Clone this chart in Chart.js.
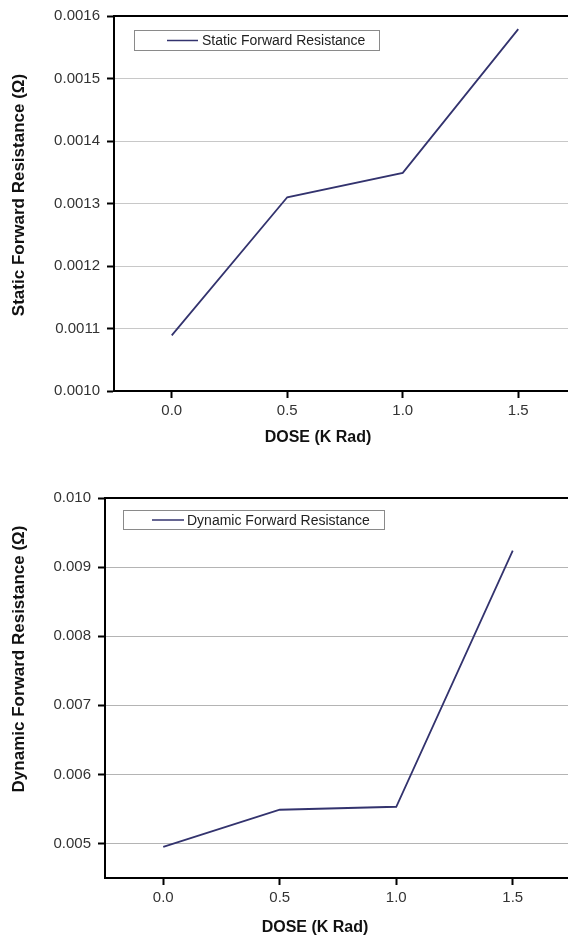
<!DOCTYPE html>
<html><head><meta charset="utf-8">
<script src="https://cdn.jsdelivr.net/npm/chart.js@4/dist/chart.umd.min.js"></script>
<style>
html,body{margin:0;padding:0;background:#fff;overflow:hidden;width:568px;height:938px;}
.wrap{position:absolute;left:0;width:600px;}
</style></head><body>
<div class="wrap" style="top:0;height:470px"><canvas id="c1"></canvas></div>
<div class="wrap" style="top:470px;height:468px"><canvas id="c2"></canvas></div>
<script>
// ---- data ----
const doseLevels = [0.0, 0.5, 1.0, 1.5];
const staticResistance = [0.001089, 0.00131, 0.001349, 0.001579];
const dynamicResistance = [0.00495, 0.005488, 0.005531, 0.00924];
const doseTicks = [0.0, 0.5, 1.0, 1.5];
const staticTicks = [0.0010, 0.0011, 0.0012, 0.0013, 0.0014, 0.0015, 0.0016];
const dynamicTicks = [0.005, 0.006, 0.007, 0.008, 0.009, 0.010];
const xAxisTitle = 'DOSE (K Rad)';
const staticLabel = 'Static Forward Resistance';
const dynamicLabel = 'Dynamic Forward Resistance';
const staticAxisTitle = 'Static Forward Resistance (\u03A9)';
const dynamicAxisTitle = 'Dynamic Forward Resistance (\u03A9)';

const FONT = '"Liberation Sans", Arial, sans-serif';
const LINE_COLOR = '#33336e';

const decor = {
  id: 'decor',
  afterDraw(chart, args, o) {
    const ctx = chart.ctx, a = chart.chartArea;
    ctx.save();
    // top frame
    ctx.strokeStyle = '#000'; ctx.lineWidth = 2;
    ctx.beginPath(); ctx.moveTo(a.left - 1, a.top); ctx.lineTo(a.right, a.top); ctx.stroke();
    // legend
    const L = o.legend;
    const bx = a.left + L.dx, by = a.top + L.dy;
    ctx.strokeStyle = '#8a8a8a'; ctx.lineWidth = 1;
    ctx.strokeRect(Math.round(bx) + 0.5, Math.round(by) + 0.5, L.w, L.h);
    const my = by + L.h / 2 + 0.5;
    ctx.strokeStyle = LINE_COLOR; ctx.lineWidth = 1.5;
    ctx.beginPath(); ctx.moveTo(bx + L.ls, my); ctx.lineTo(bx + L.ls + L.ll, my); ctx.stroke();
    ctx.fillStyle = '#222'; ctx.font = '14px ' + FONT; ctx.textBaseline = 'middle'; ctx.textAlign = 'left';
    ctx.fillText(chart.data.datasets[0].label, bx + L.tx, my + 1);
    // axis titles
    ctx.fillStyle = '#111'; ctx.textAlign = 'center'; ctx.textBaseline = 'middle';
    ctx.font = 'bold 16px ' + FONT;
    ctx.fillText(o.xTitle.text, o.xTitle.x, o.xTitle.y);
    ctx.font = 'bold 17px ' + FONT;
    ctx.translate(o.yTitle.x, o.yTitle.y); ctx.rotate(-Math.PI / 2);
    ctx.fillText(o.yTitle.text, 0, 0);
    ctx.restore();
  }
};

function makeChart(id, cfg) {
  const H = cfg.H;
  return new Chart(document.getElementById(id), {
    type: 'line',
    data: {
      datasets: [{
        label: cfg.label,
        data: doseLevels.map((d, i) => ({ x: d, y: cfg.values[i] })),
        borderColor: LINE_COLOR, borderWidth: 1.8, pointRadius: 0, tension: 0, fill: false
      }]
    },
    options: {
      responsive: true, maintainAspectRatio: false, animation: false,
      layout: { padding: { top: cfg.top, right: 600 - cfg.right, bottom: 0, left: 0 } },
      scales: {
        x: {
          type: 'linear', min: -0.25, max: 1.75, position: 'bottom',
          afterBuildTicks: s => { s.ticks = doseTicks.map(v => ({ value: v })); },
          afterFit: s => { s.height = H - cfg.bottom; },
          ticks: { callback: v => Number(v).toFixed(1), color: '#333', font: { family: FONT, size: 15 }, padding: 4, maxRotation: 0 },
          grid: { drawOnChartArea: false, drawTicks: true, tickLength: 7, tickColor: '#000', tickWidth: 2 },
          border: { display: true, color: '#000', width: 2 }
        },
        y: {
          type: 'linear', min: cfg.ymin, max: cfg.ymax, position: 'left',
          afterBuildTicks: s => { s.ticks = cfg.yTicks.map(v => ({ value: v })); },
          afterFit: s => { s.width = cfg.left; },
          ticks: { callback: v => Number(v).toFixed(cfg.dec), color: '#333', font: { family: FONT, size: 15 }, padding: 7 },
          grid: { color: cfg.gridColor, lineWidth: 1, drawTicks: true, tickLength: 7, tickColor: '#000', tickWidth: 2 },
          border: { display: true, color: '#000', width: 2 }
        }
      },
      plugins: {
        legend: { display: false }, tooltip: { enabled: false },
        decor: { legend: cfg.legend, xTitle: cfg.xTitle, yTitle: cfg.yTitle }
      }
    },
    plugins: [decor]
  });
}

makeChart('c1', {
  H: 470, top: 15, bottom: 391, left: 114, right: 576,
  ymin: 0.0010, ymax: 0.0016, yTicks: staticTicks, dec: 4, gridColor: '#c8c8c8',
  values: staticResistance, label: staticLabel,
  legend: { dx: 20, dy: 14, w: 245, h: 20, ls: 33, ll: 31, tx: 68 },
  xTitle: { text: xAxisTitle, x: 318, y: 438 },
  yTitle: { text: staticAxisTitle, x: 19, y: 195 }
});
makeChart('c2', {
  H: 468, top: 28, bottom: 408, left: 105, right: 571,
  ymin: 0.0045, ymax: 0.010, yTicks: dynamicTicks, dec: 3, gridColor: '#b4b4b4',
  values: dynamicResistance, label: dynamicLabel,
  legend: { dx: 18, dy: 12, w: 261, h: 19, ls: 29, ll: 32, tx: 64 },
  xTitle: { text: xAxisTitle, x: 315, y: 458 },
  yTitle: { text: dynamicAxisTitle, x: 19, y: 189 }
});
</script>
</body></html>
